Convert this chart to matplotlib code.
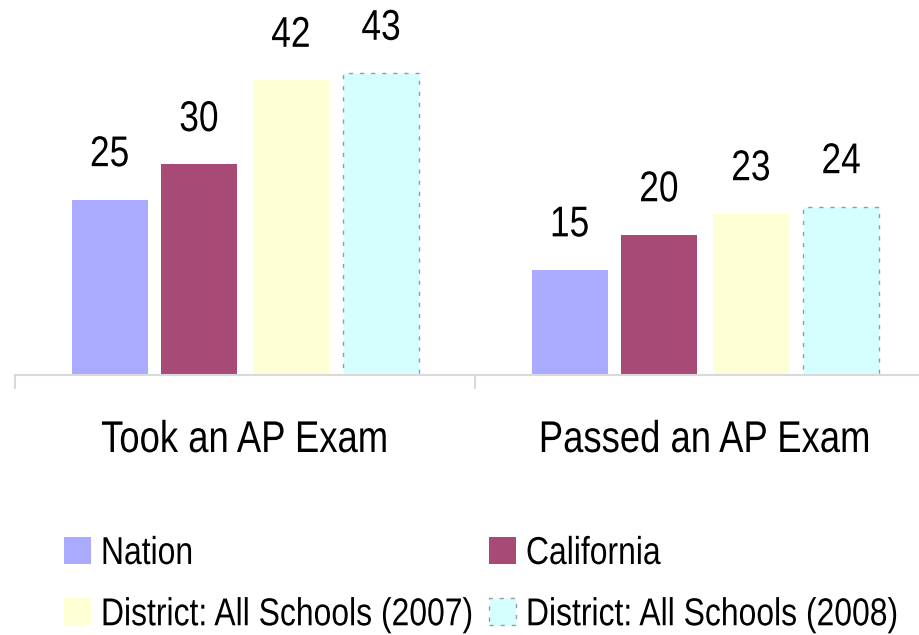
import matplotlib
matplotlib.use("Agg")
import matplotlib.pyplot as plt
from matplotlib.patheffects import AbstractPathEffect
from matplotlib.transforms import Affine2D

plt.rcParams['font.family'] = ['Liberation Sans', 'DejaVu Sans']


# the original uses a condensed Arial; squeeze the glyphs sideways
class Narrow(AbstractPathEffect):
    def __init__(self, sx=0.82, center=True):
        super().__init__()
        self.sx = sx
        self.center = center

    def draw_path(self, renderer, gc, tpath, affine, rgbFace=None):
        c = 0
        if self.center and len(tpath.vertices):
            xs = tpath.vertices[:, 0]
            c = (xs.min() + xs.max()) / 2
        t = Affine2D().translate(-c, 0).scale(self.sx, 1).translate(c, 0) + affine
        renderer.draw_path(gc, tpath, t, rgbFace)


categories = ['Took an AP Exam', 'Passed an AP Exam']
series = ['Nation', 'California', 'District: All Schools (2007)', 'District: All Schools (2008)']
nation = [25, 15]
california = [30, 20]
district_2007 = [42, 23]
district_2008 = [43, 24]
values = [nation, california, district_2007, district_2008]
colors = ['#AAAAFF', '#A84A76', '#FFFFD5', '#D5FFFF']

W, H = 919, 635
fig = plt.figure(figsize=(W / 100, H / 100), dpi=100)
ax = fig.add_axes([15 / W, (H - 375) / H, 920 / W, 375 / H])

offsets = [-0.294, -0.1, 0.1, 0.296]
width = 0.166
handles = []
for k in range(4):
    xs = [i + offsets[k] for i in range(len(categories))]
    if k == 3:
        b = ax.bar(xs, values[k], width, color=colors[k], edgecolor='#999999',
                   linewidth=1, linestyle=(0, (3, 5)), label=series[k])
    else:
        b = ax.bar(xs, values[k], width, color=colors[k], linewidth=0, label=series[k])
    handles.append(b)
    for x, v in zip(xs, values[k]):
        ax.annotate(str(v), (x, v), xytext=(0, 24), textcoords='offset points',
                    ha='center', va='baseline', fontsize=31, path_effects=[Narrow()])

ax.set_xlim(-0.5, 1.5)
ax.set_ylim(0, 375 / 7.02)
for s in ['top', 'left', 'right']:
    ax.spines[s].set_visible(False)
ax.spines['bottom'].set_color('#d9d9d9')
ax.spines['bottom'].set_linewidth(1.5)
ax.set_yticks([])
ax.set_xticks([-0.5, 0.5, 1.5])
ax.set_xticklabels([])
ax.tick_params(axis='x', length=10, width=1.5, color='#d9d9d9')

for i, c in enumerate(categories):
    ax.text(i, -(452 - 375) / 375, c, transform=ax.get_xaxis_transform(),
            ha='center', va='baseline', fontsize=32, path_effects=[Narrow()])

# legend: two columns, filled row by row
leg_kw = dict(loc='upper left', frameon=False, fontsize=28, borderpad=0,
              borderaxespad=0, handlelength=0.69, handleheight=0.69,
              handletextpad=0.26, labelspacing=0.65)
cols = [[0, 2], [1, 3]]
col_x = [64, 489]
for idx, x0 in zip(cols, col_x):
    leg = fig.legend(handles=[handles[j] for j in idx], labels=[series[j] for j in idx],
                     bbox_to_anchor=(x0 / W, (H - 536) / H), **leg_kw)
    for t in leg.get_texts():
        t.set_path_effects([Narrow(center=False)])

fig.savefig('out.png', dpi=100)
